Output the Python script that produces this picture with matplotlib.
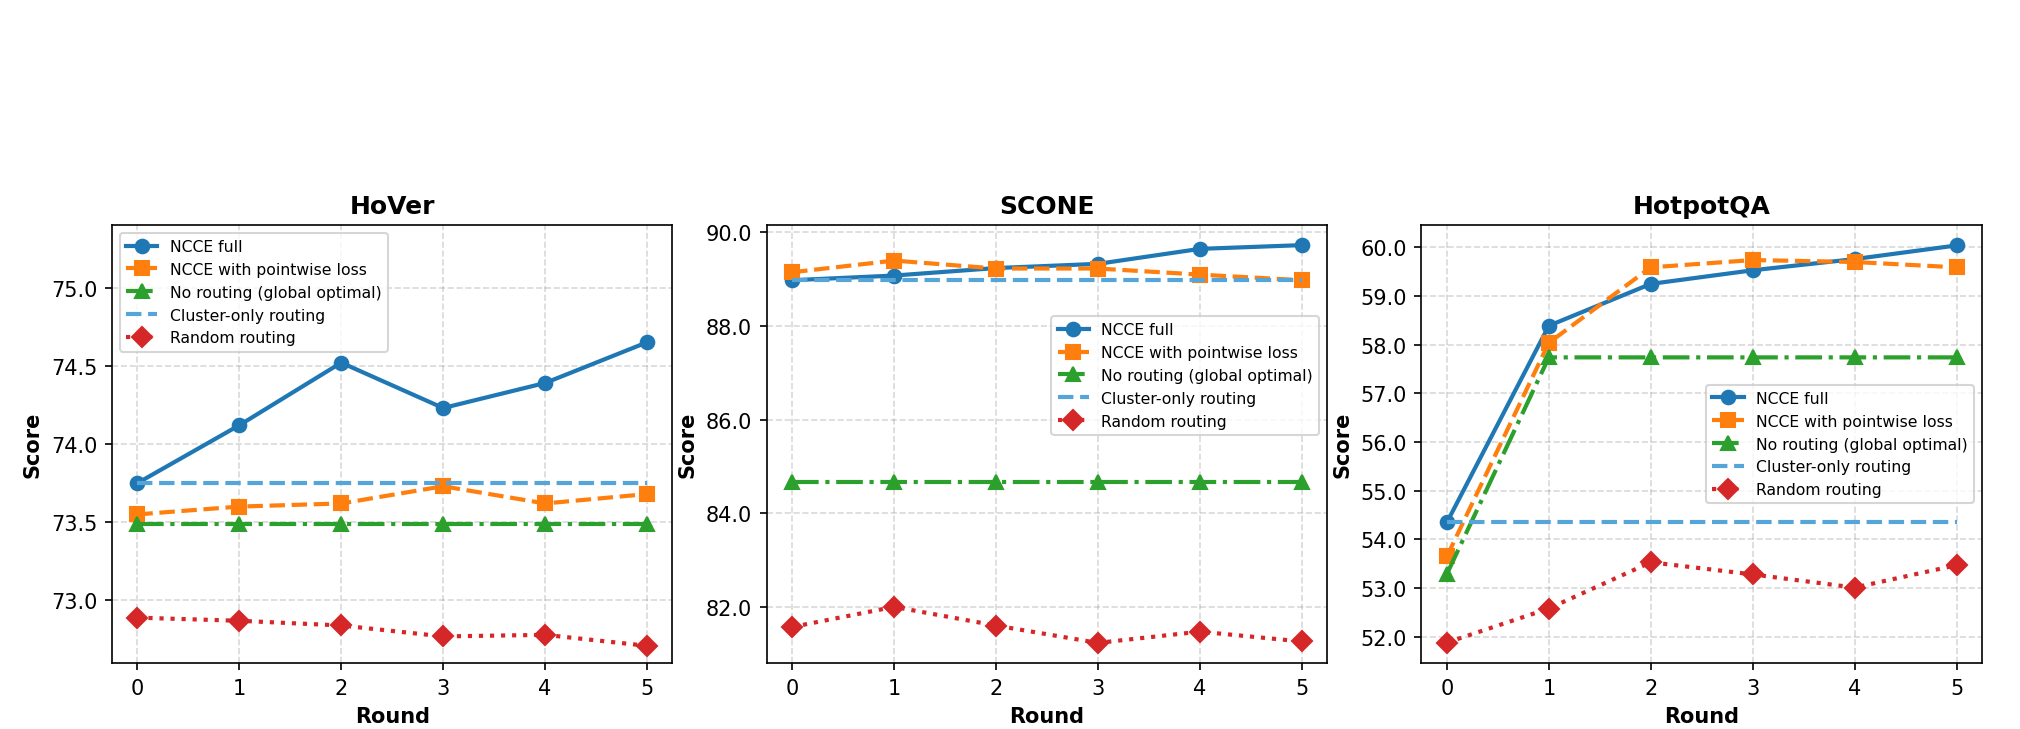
import numpy as np
import matplotlib
matplotlib.use("Agg")
import matplotlib.pyplot as plt

rounds = [0, 1, 2, 3, 4, 5]
datasets = ["HoVer", "SCONE", "HotpotQA"]

# HoVer
hover_full = [73.75, 74.12, 74.52, 74.23, 74.39, 74.65]
hover_pointwise = [73.55, 73.60, 73.62, 73.73, 73.62, 73.68]
hover_norouting = [73.49, 73.49, 73.49, 73.49, 73.49, 73.49]
hover_cluster = [73.75, 73.75, 73.75, 73.75, 73.75, 73.75]
hover_random = [72.89, 72.87, 72.84, 72.77, 72.78, 72.71]

# SCONE
scone_full = [88.98, 89.08, 89.24, 89.33, 89.65, 89.73]
scone_pointwise = [89.15, 89.40, 89.23, 89.23, 89.10, 88.98]
scone_norouting = [84.66, 84.66, 84.66, 84.66, 84.66, 84.66]
scone_cluster = [88.98, 88.98, 88.98, 88.98, 88.98, 88.98]
scone_random = [81.57, 82.00, 81.60, 81.23, 81.47, 81.26]

# HotpotQA
hotpot_full = [54.35, 58.39, 59.25, 59.53, 59.76, 60.04]
hotpot_pointwise = [53.65, 58.04, 59.59, 59.74, 59.70, 59.59]
hotpot_norouting = [53.29, 57.74, 57.74, 57.74, 57.74, 57.74]
hotpot_cluster = [54.35, 54.35, 54.35, 54.35, 54.35, 54.35]
hotpot_random = [51.88, 52.58, 53.53, 53.28, 53.01, 53.47]

all_series = [
    (hover_full, hover_pointwise, hover_norouting, hover_cluster, hover_random),
    (scone_full, scone_pointwise, scone_norouting, scone_cluster, scone_random),
    (hotpot_full, hotpot_pointwise, hotpot_norouting, hotpot_cluster, hotpot_random),
]
ylims = [(72.6, 75.4), (80.8, 90.16), (51.46, 60.46)]
yticks = [np.arange(73.0, 75.01, 0.5), np.arange(82.0, 90.01, 2.0), np.arange(52.0, 60.01, 1.0)]
legend_opts = [
    dict(loc="upper left"),
    dict(loc="upper right", bbox_to_anchor=(1.0, 0.81)),
    dict(loc="center right"),
]

labels = ["NCCE full", "NCCE with pointwise loss", "No routing (global optimal)",
          "Cluster-only routing", "Random routing"]
styles = [
    dict(color="#1f77b4", linestyle="-", marker="o"),
    dict(color="#ff7f0e", linestyle="--", marker="s"),
    dict(color="#2ca02c", linestyle="-.", marker="^"),
    dict(color="#56a5d8", linestyle="--", marker=None),
    dict(color="#d62728", linestyle=":", marker="D"),
]

plt.rcParams.update({"font.size": 10})
fig, axes = plt.subplots(1, 3, figsize=(2020 / 150, 730 / 150), dpi=150)
fig.subplots_adjust(left=0.0554, right=0.9812, top=0.6904, bottom=0.0904, wspace=0.168)

for i, ax in enumerate(axes):
    for series, lab, st in zip(all_series[i], labels, styles):
        ax.plot(rounds, series, label=lab, linewidth=2, markersize=6.5, **st)
    ax.set_title(datasets[i], fontsize=12, fontweight="bold")
    ax.set_xlabel("Round", fontsize=10, fontweight="bold")
    ax.set_ylabel("Score", fontsize=10, fontweight="bold")
    ax.set_xticks(rounds)
    ax.set_ylim(*ylims[i])
    ax.set_yticks(yticks[i])
    ax.set_yticklabels(["%.1f" % v for v in yticks[i]])
    ax.grid(True, linestyle="--", color="gray", alpha=0.3)
    ax.legend(fontsize=7.5, **legend_opts[i])

fig.savefig("out.png", dpi=150)
